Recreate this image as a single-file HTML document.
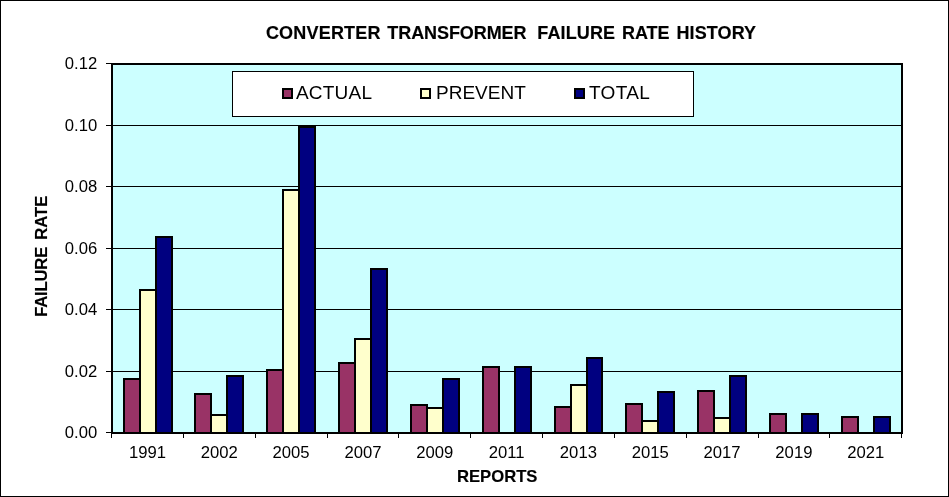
<!DOCTYPE html>
<html><head><meta charset="utf-8"><title>Converter Transformer Failure Rate History</title>
<style>html,body{margin:0;padding:0;background:#fff;overflow:hidden}svg{display:block}text{font-family:"Liberation Sans",Arial,Helvetica,sans-serif;fill:#000}.b{font-weight:bold;stroke:#000;stroke-width:0.15px}.ax{font-size:16.67px}.lg{font-size:19px}</style></head><body>
<svg width="949" height="497" viewBox="0 0 949 497">
<g shape-rendering="crispEdges">
<rect x="0" y="0" width="949" height="497" fill="#000"/>
<rect x="1" y="1" width="947" height="495" fill="#fff"/>
<rect x="111" y="63" width="792" height="371" fill="#000"/>
<rect x="113" y="65" width="788" height="367" fill="#ccffff"/>
<rect x="113" y="125" width="788" height="1" fill="#000"/>
<rect x="113" y="186" width="788" height="1" fill="#000"/>
<rect x="113" y="248" width="788" height="1" fill="#000"/>
<rect x="113" y="309" width="788" height="1" fill="#000"/>
<rect x="113" y="371" width="788" height="1" fill="#000"/>
<rect x="106" y="63" width="5" height="1" fill="#000"/>
<rect x="106" y="125" width="5" height="1" fill="#000"/>
<rect x="106" y="186" width="5" height="1" fill="#000"/>
<rect x="106" y="248" width="5" height="1" fill="#000"/>
<rect x="106" y="309" width="5" height="1" fill="#000"/>
<rect x="106" y="371" width="5" height="1" fill="#000"/>
<rect x="106" y="432" width="5" height="1" fill="#000"/>
<rect x="111" y="434" width="1" height="4" fill="#000"/>
<rect x="183" y="434" width="1" height="4" fill="#000"/>
<rect x="255" y="434" width="1" height="4" fill="#000"/>
<rect x="327" y="434" width="1" height="4" fill="#000"/>
<rect x="398" y="434" width="1" height="4" fill="#000"/>
<rect x="470" y="434" width="1" height="4" fill="#000"/>
<rect x="542" y="434" width="1" height="4" fill="#000"/>
<rect x="614" y="434" width="1" height="4" fill="#000"/>
<rect x="686" y="434" width="1" height="4" fill="#000"/>
<rect x="758" y="434" width="1" height="4" fill="#000"/>
<rect x="829" y="434" width="1" height="4" fill="#000"/>
<rect x="901" y="434" width="1" height="4" fill="#000"/>
<rect x="123" y="378" width="18" height="56" fill="#000"/>
<rect x="139" y="289" width="18" height="145" fill="#000"/>
<rect x="155" y="236" width="18" height="198" fill="#000"/>
<rect x="125" y="380" width="14" height="52" fill="#993366"/>
<rect x="141" y="291" width="14" height="141" fill="#ffffcc"/>
<rect x="157" y="238" width="14" height="194" fill="#000080"/>
<rect x="194" y="393" width="18" height="41" fill="#000"/>
<rect x="210" y="414" width="18" height="20" fill="#000"/>
<rect x="226" y="375" width="18" height="59" fill="#000"/>
<rect x="196" y="395" width="14" height="37" fill="#993366"/>
<rect x="212" y="416" width="14" height="16" fill="#ffffcc"/>
<rect x="228" y="377" width="14" height="55" fill="#000080"/>
<rect x="266" y="369" width="18" height="65" fill="#000"/>
<rect x="282" y="189" width="18" height="245" fill="#000"/>
<rect x="298" y="126" width="18" height="308" fill="#000"/>
<rect x="268" y="371" width="14" height="61" fill="#993366"/>
<rect x="284" y="191" width="14" height="241" fill="#ffffcc"/>
<rect x="300" y="128" width="14" height="304" fill="#000080"/>
<rect x="338" y="362" width="18" height="72" fill="#000"/>
<rect x="354" y="338" width="18" height="96" fill="#000"/>
<rect x="370" y="268" width="18" height="166" fill="#000"/>
<rect x="340" y="364" width="14" height="68" fill="#993366"/>
<rect x="356" y="340" width="14" height="92" fill="#ffffcc"/>
<rect x="372" y="270" width="14" height="162" fill="#000080"/>
<rect x="410" y="404" width="18" height="30" fill="#000"/>
<rect x="426" y="407" width="18" height="27" fill="#000"/>
<rect x="442" y="378" width="18" height="56" fill="#000"/>
<rect x="412" y="406" width="14" height="26" fill="#993366"/>
<rect x="428" y="409" width="14" height="23" fill="#ffffcc"/>
<rect x="444" y="380" width="14" height="52" fill="#000080"/>
<rect x="482" y="366" width="18" height="68" fill="#000"/>
<rect x="514" y="366" width="18" height="68" fill="#000"/>
<rect x="484" y="368" width="14" height="64" fill="#993366"/>
<rect x="516" y="368" width="14" height="64" fill="#000080"/>
<rect x="554" y="406" width="18" height="28" fill="#000"/>
<rect x="570" y="384" width="18" height="50" fill="#000"/>
<rect x="586" y="357" width="17" height="77" fill="#000"/>
<rect x="556" y="408" width="14" height="24" fill="#993366"/>
<rect x="572" y="386" width="14" height="46" fill="#ffffcc"/>
<rect x="588" y="359" width="13" height="73" fill="#000080"/>
<rect x="625" y="403" width="18" height="31" fill="#000"/>
<rect x="641" y="420" width="18" height="14" fill="#000"/>
<rect x="657" y="391" width="18" height="43" fill="#000"/>
<rect x="627" y="405" width="14" height="27" fill="#993366"/>
<rect x="643" y="422" width="14" height="10" fill="#ffffcc"/>
<rect x="659" y="393" width="14" height="39" fill="#000080"/>
<rect x="697" y="390" width="18" height="44" fill="#000"/>
<rect x="713" y="417" width="18" height="17" fill="#000"/>
<rect x="729" y="375" width="18" height="59" fill="#000"/>
<rect x="699" y="392" width="14" height="40" fill="#993366"/>
<rect x="715" y="419" width="14" height="13" fill="#ffffcc"/>
<rect x="731" y="377" width="14" height="55" fill="#000080"/>
<rect x="769" y="413" width="18" height="21" fill="#000"/>
<rect x="801" y="413" width="18" height="21" fill="#000"/>
<rect x="771" y="415" width="14" height="17" fill="#993366"/>
<rect x="803" y="415" width="14" height="17" fill="#000080"/>
<rect x="841" y="416" width="18" height="18" fill="#000"/>
<rect x="873" y="416" width="18" height="18" fill="#000"/>
<rect x="843" y="418" width="14" height="14" fill="#993366"/>
<rect x="875" y="418" width="14" height="14" fill="#000080"/>
<rect x="232" y="71" width="462" height="46" fill="#000"/>
<rect x="233" y="72" width="460" height="44" fill="#fff"/>
<rect x="282" y="88" width="11" height="11" fill="#000"/>
<rect x="284" y="90" width="7" height="7" fill="#993366"/>
<rect x="420" y="88" width="11" height="11" fill="#000"/>
<rect x="422" y="90" width="7" height="7" fill="#ffffcc"/>
<rect x="574" y="88" width="11" height="11" fill="#000"/>
<rect x="576" y="90" width="7" height="7" fill="#000080"/>
</g>
<text class="b" y="38.5" font-size="18"><tspan x="265.9" letter-spacing="0.2">CONVERTER</tspan> <tspan x="387.3" letter-spacing="-0.08">TRANSFORMER</tspan>  <tspan x="537.3" letter-spacing="0.12">FAILURE</tspan> <tspan x="621.9">RATE</tspan> <tspan x="676.4" letter-spacing="0.12">HISTORY</tspan></text>
<text class="ax" x="97.2" y="69" text-anchor="end">0.12</text>
<text class="ax" x="97.2" y="131" text-anchor="end">0.10</text>
<text class="ax" x="97.2" y="192" text-anchor="end">0.08</text>
<text class="ax" x="97.2" y="254" text-anchor="end">0.06</text>
<text class="ax" x="97.2" y="315" text-anchor="end">0.04</text>
<text class="ax" x="97.2" y="377" text-anchor="end">0.02</text>
<text class="ax" x="97.2" y="438" text-anchor="end">0.00</text>
<text class="ax" x="147.5" y="458" text-anchor="middle">1991</text>
<text class="ax" x="219.3" y="458" text-anchor="middle">2002</text>
<text class="ax" x="291.1" y="458" text-anchor="middle">2005</text>
<text class="ax" x="363.0" y="458" text-anchor="middle">2007</text>
<text class="ax" x="434.8" y="458" text-anchor="middle">2009</text>
<text class="ax" x="506.6" y="458" text-anchor="middle">2011</text>
<text class="ax" x="578.4" y="458" text-anchor="middle">2013</text>
<text class="ax" x="650.2" y="458" text-anchor="middle">2015</text>
<text class="ax" x="722.1" y="458" text-anchor="middle">2017</text>
<text class="ax" x="793.9" y="458" text-anchor="middle">2019</text>
<text class="ax" x="865.7" y="458" text-anchor="middle">2021</text>
<text class="b ax" x="497.2" y="481.7" text-anchor="middle">REPORTS</text>
<text class="b ax" transform="translate(47.4,316.8) rotate(-90)"><tspan x="0" letter-spacing="-0.2">FAILURE</tspan> <tspan x="77">RATE</tspan></text>
<text class="lg" x="295.9" y="98.7" letter-spacing="0.22">ACTUAL</text>
<text class="lg" x="436.0" y="98.7" letter-spacing="0">PREVENT</text>
<text class="lg" x="588.9" y="98.7" letter-spacing="0.35">TOTAL</text>
</svg></body></html>
